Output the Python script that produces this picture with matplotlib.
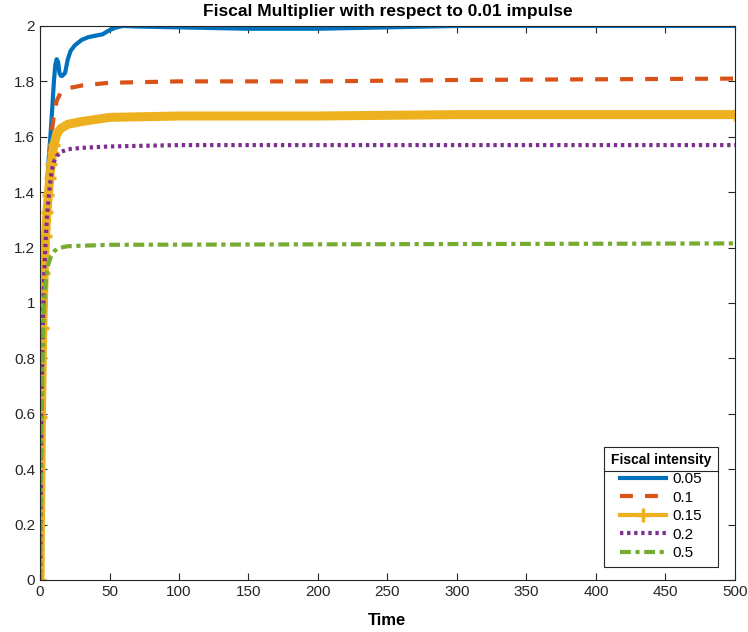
import numpy as np
import matplotlib
matplotlib.use('Agg')
import matplotlib.pyplot as plt
from matplotlib.lines import Line2D

plt.rcParams['font.family'] = ['Liberation Sans', 'DejaVu Sans']

# fiscal multiplier paths (time, value)
t_005 = [0, 1, 2, 3, 4, 5, 6, 7, 8, 9, 10, 11, 12, 13, 14, 15, 16, 18, 20, 22, 25, 30, 35, 40, 45, 50, 55, 60, 70, 100, 150, 200, 250, 300, 500]
m_005 = [0, 0.6, 0.95, 1.17, 1.32, 1.42, 1.5, 1.57, 1.64, 1.72, 1.8, 1.86, 1.88, 1.87, 1.83, 1.82, 1.82, 1.83, 1.88, 1.91, 1.93, 1.95, 1.96, 1.965, 1.97, 1.985, 1.995, 2.0, 1.998, 1.995, 1.99, 1.99, 1.995, 2.0, 2.0]

t_01 = [0, 1, 2, 3, 4, 5, 6, 7, 8, 9, 10, 12, 15, 20, 30, 50, 100, 200, 300, 500]
m_01 = [0, 0.6, 0.93, 1.14, 1.28, 1.38, 1.46, 1.53, 1.59, 1.64, 1.68, 1.73, 1.76, 1.775, 1.785, 1.795, 1.8, 1.8, 1.805, 1.81]

t_015 = [0, 1, 2, 3, 4, 5, 6, 7, 8, 9, 10, 12, 15, 20, 30, 50, 100, 200, 300, 500]
m_015 = [0, 0.59, 0.91, 1.11, 1.24, 1.33, 1.39, 1.45, 1.5, 1.54, 1.57, 1.61, 1.63, 1.645, 1.655, 1.67, 1.675, 1.675, 1.68, 1.68]

t_02 = [0, 1, 2, 3, 4, 5, 6, 7, 8, 9, 10, 12, 15, 20, 30, 50, 100, 500]
m_02 = [0, 0.59, 0.9, 1.1, 1.22, 1.31, 1.37, 1.42, 1.46, 1.49, 1.51, 1.53, 1.545, 1.555, 1.56, 1.565, 1.57, 1.57]

t_05 = [0, 1, 2, 3, 4, 5, 6, 8, 10, 12, 15, 20, 50, 500]
m_05 = [0, 0.55, 0.85, 1.0, 1.07, 1.11, 1.14, 1.17, 1.185, 1.195, 1.2, 1.205, 1.21, 1.215]

labels = ['0.05', '0.1', '0.15', '0.2', '0.5']

fig = plt.figure(figsize=(7.48, 6.32), dpi=100)
ax = fig.add_axes([0.0535, 0.0823, 0.929, 0.8766])

ax.plot(t_005, m_005, color='#0072BD', lw=3, label=labels[0])
ax.plot(t_01, m_01, color='#D95319', lw=3, ls=(0, (3.1, 2.9)), label=labels[1])
ax.plot(t_015, m_015, color='#EDB120', lw=6.5, marker='+', ms=8, mew=2.5,
        markevery=list(range(11)) + [len(t_015) - 1], label=labels[2])
ax.plot(t_02, m_02, color='#7E2F8E', lw=3, ls=(0, (0.8, 0.9)), label=labels[3])
ax.plot(t_05, m_05, color='#77AC30', lw=3, ls=(0, (2.6, 1.1, 1.0, 1.1)), label=labels[4])

ax.set_xlim(0, 500)
ax.set_ylim(0, 2)
ax.set_xticks(np.arange(0, 501, 50))
ax.set_yticks(np.arange(0, 2.01, 0.2))
ax.set_yticklabels(['0', '0.2', '0.4', '0.6', '0.8', '1', '1.2', '1.4', '1.6', '1.8', '2'])
ax.tick_params(direction='in', top=True, right=True, length=5, width=0.8,
               colors='#262626', labelsize=11)
for s in ax.spines.values():
    s.set_color('#262626')
    s.set_linewidth(0.8)

ax.set_xlabel('Time', fontsize=12, fontweight='bold', labelpad=10)
ax.set_title('Fiscal Multiplier with respect to 0.01 impulse', fontsize=12.5,
             fontweight='bold', pad=7.5)

leg = ax.legend(loc='lower right', bbox_to_anchor=(0.9755, 0.023), borderaxespad=0,
                title='Fiscal intensity', alignment='center',
                fancybox=False, edgecolor='#262626', framealpha=1, fontsize=11,
                handlelength=3.0, handletextpad=0.4, borderpad=0.45, labelspacing=0.3)
leg.get_title().set_fontweight('bold')
leg.get_title().set_fontsize(10)
leg.get_frame().set_linewidth(0.8)
# thinner yellow handle with a visible cross, like the original
leg.legend_handles[2].set_linewidth(3)
leg.legend_handles[2].set_markersize(10)

# separator line under the legend title
fig.canvas.draw()
r = fig.canvas.get_renderer()
fb = leg.get_frame().get_window_extent(r)
tb = leg.get_title().get_window_extent(r)
ysep = tb.y0 - 4
inv = fig.transFigure.inverted()
p0 = inv.transform((fb.x0, ysep))
p1 = inv.transform((fb.x1, ysep))
fig.add_artist(Line2D([p0[0], p1[0]], [p0[1], p1[1]], color='#262626', lw=0.8))

fig.savefig('out.png', dpi=100)
